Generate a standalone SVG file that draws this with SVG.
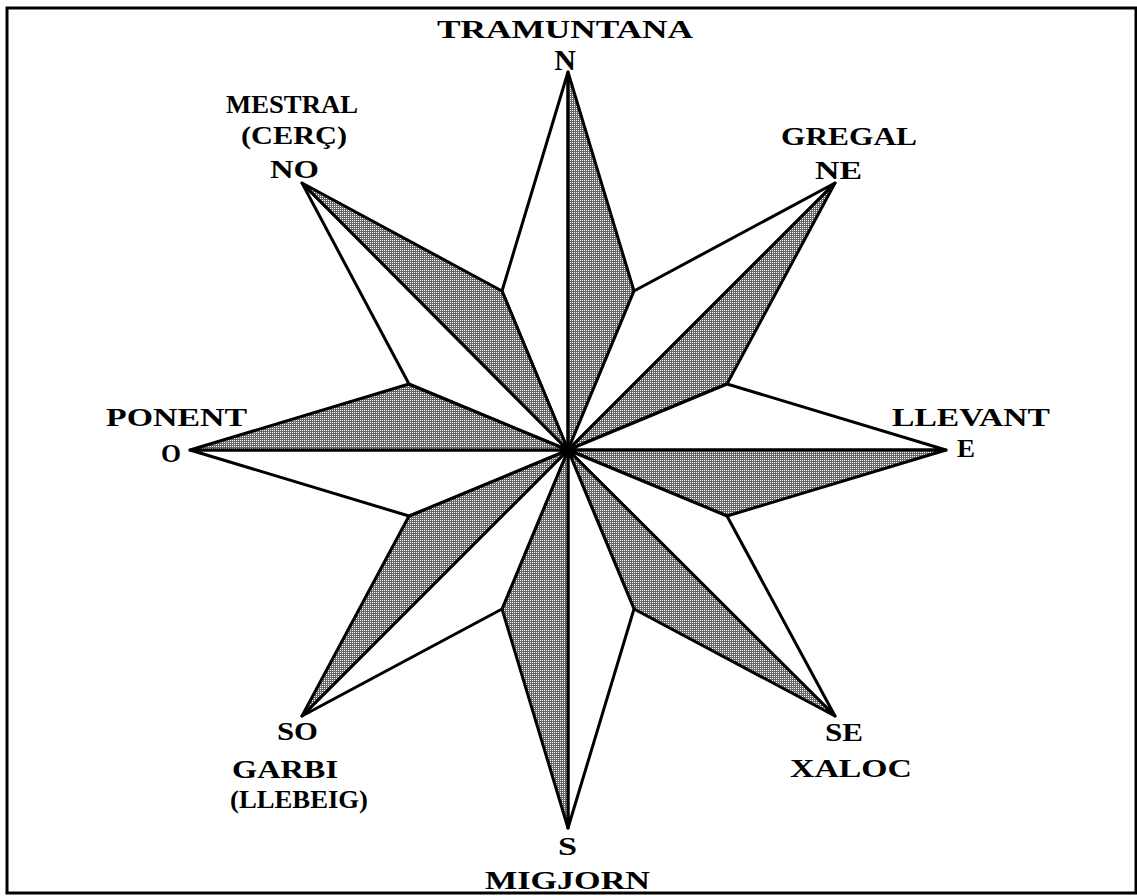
<svg xmlns="http://www.w3.org/2000/svg" width="1137" height="896" viewBox="0 0 1137 896">
<style>
.frame{fill:#fff;stroke:#000;stroke-width:3}
.g{fill:url(#dither);stroke:#000;stroke-width:3;stroke-linejoin:round}
.w{fill:#fff;stroke:#000;stroke-width:3;stroke-linejoin:round}
text{font-family:"Liberation Serif","DejaVu Serif",serif;font-weight:bold;font-size:26px;fill:#000}
.big{font-size:30px}
</style>
<defs>
<pattern id="dither" patternUnits="userSpaceOnUse" width="2" height="2">
<rect width="2" height="2" fill="#666666"/>
<rect width="1" height="1" fill="#ffffff"/>
</pattern>
</defs>
<rect class="frame" x="7" y="8" width="1129" height="885"/>
<g id="rose">
<g id="ray-N"><polygon class="w" points="568,450 568,72 502,291"/><polygon class="g" points="568,450 568,72 634,291"/></g>
<g id="ray-NE"><polygon class="w" points="568,450 835,183 634,291"/><polygon class="g" points="568,450 835,183 727,384"/></g>
<g id="ray-E"><polygon class="w" points="568,450 946,450 727,384"/><polygon class="g" points="568,450 946,450 727,516"/></g>
<g id="ray-SE"><polygon class="w" points="568,450 835,716 727,516"/><polygon class="g" points="568,450 835,716 634,609"/></g>
<g id="ray-S"><polygon class="w" points="568,450 568,828 634,609"/><polygon class="g" points="568,450 568,828 502,609"/></g>
<g id="ray-SO"><polygon class="w" points="568,450 302,716 502,609"/><polygon class="g" points="568,450 302,716 409,516"/></g>
<g id="ray-O"><polygon class="w" points="568,450 190,450 409,516"/><polygon class="g" points="568,450 190,450 409,384"/></g>
<g id="ray-NO"><polygon class="w" points="568,450 302,183 409,384"/><polygon class="g" points="568,450 302,183 502,291"/></g>
<circle id="center" cx="568" cy="450" r="5" fill="#000"/>
</g>
<g id="labels">
<g id="label-N"><text x="437" y="38" textLength="256" lengthAdjust="spacingAndGlyphs">TRAMUNTANA</text><text class="big" x="565" y="70" text-anchor="middle">N</text></g>
<g id="label-NO"><text x="226" y="113" textLength="132" lengthAdjust="spacingAndGlyphs">MESTRAL</text><text x="241" y="144" textLength="106" lengthAdjust="spacingAndGlyphs">(CERÇ)</text><text x="270" y="178" textLength="49" lengthAdjust="spacingAndGlyphs">NO</text></g>
<g id="label-NE"><text x="781" y="145" textLength="136" lengthAdjust="spacingAndGlyphs">GREGAL</text><text x="815" y="179" textLength="47" lengthAdjust="spacingAndGlyphs">NE</text></g>
<g id="label-O"><text x="106" y="426" textLength="141" lengthAdjust="spacingAndGlyphs">PONENT</text><text x="161" y="462" textLength="20" lengthAdjust="spacingAndGlyphs">O</text></g>
<g id="label-E"><text x="892" y="426" textLength="158" lengthAdjust="spacingAndGlyphs">LLEVANT</text><text x="957" y="457" textLength="18" lengthAdjust="spacingAndGlyphs">E</text></g>
<g id="label-SO"><text x="277" y="740" textLength="41" lengthAdjust="spacingAndGlyphs">SO</text><text x="232" y="778" textLength="106" lengthAdjust="spacingAndGlyphs">GARBI</text><text x="230" y="808" textLength="138" lengthAdjust="spacingAndGlyphs">(LLEBEIG)</text></g>
<g id="label-SE"><text x="825" y="741" textLength="38" lengthAdjust="spacingAndGlyphs">SE</text><text x="790" y="777" textLength="122" lengthAdjust="spacingAndGlyphs">XALOC</text></g>
<g id="label-S"><text x="558" y="855" textLength="19" lengthAdjust="spacingAndGlyphs">S</text><text x="485" y="889" textLength="165" lengthAdjust="spacingAndGlyphs">MIGJORN</text></g>
</g>
</svg>
